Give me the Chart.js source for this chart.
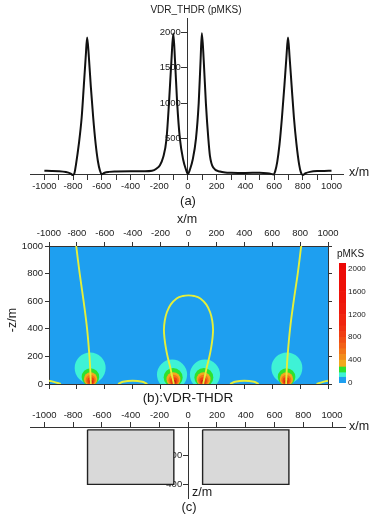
<!DOCTYPE html>
<html>
<head>
<meta charset="utf-8">
<script src="https://cdn.jsdelivr.net/npm/chart.js@4.4.1/dist/chart.umd.min.js"></script>
<style>
  body { margin: 0; background: #fff; }
  #wrap { position: relative; width: 378px; height: 518px; overflow: hidden; }
  canvas { position: absolute; }
</style>
</head>
<body>
<div id="wrap">
  <canvas id="chartA" width="378" height="210" style="left:0;top:0"></canvas>
  <canvas id="chartB" width="378" height="210" style="left:0;top:200px"></canvas>
  <canvas id="chartBar" width="58" height="150" style="left:320px;top:240px"></canvas>
  <canvas id="chartC" width="378" height="113" style="left:0;top:405px"></canvas>
</div>
<script>
// (a) VDR_THDR profile
var profileX = [-1000, -950, -900, -850, -820, -800, -790, -780, -760, -740, -725, -712, -702, -690, -677, -660, -643, -627, -613, -600,
  -580, -550, -500, -400, -300, -250, -220, -195, -172, -150, -132, -115, -102, -90, -75, -56, -33, -15, 0,
  15, 33, 56, 75, 88, 97, 110, 125, 142, 153, 176, 223, 260, 300, 400, 500, 550, 580, 595,
  608, 622, 638, 655, 672, 686, 697, 708, 722, 738, 756, 774, 788, 800, 820, 850, 900, 950, 1000];
var profileV = [45, 44, 40, 28, 10, -15, 15, 130, 420, 800, 1250, 1650, 1925, 1650, 1250, 800, 430, 180, 50, -5,
  18, 30, 35, 38, 38, 45, 75, 125, 240, 480, 1000, 1600, 1980, 1600, 1000, 500, 200, 70, 0,
  70, 200, 500, 1000, 1600, 1985, 1600, 1000, 500, 260, 90, 35, 22, 18, 15, 18, 12, 2, -8,
  40, 170, 420, 800, 1250, 1650, 1925, 1650, 1250, 800, 420, 140, 15, -14, 12, 30, 42, 44, 45];
var xTicksA = [-1000, -900, -800, -700, -600, -500, -400, -300, -200, -100, 0, 100, 200, 300, 400, 500, 600, 700, 800, 900, 1000];
var yTicksA = [500, 1000, 1500, 2000];

// (b) zero contours (yellow) as [x, -z] pairs
var zeroLeft = [[-805, 1000], [-780, 800], [-752, 600], [-727, 400], [-710, 200], [-704, 100], [-700, 0]];
var zeroRight = [[808, 1000], [783, 800], [754, 600], [728, 400], [710, 200], [704, 100], [700, 0]];
var zeroLoop = [[-105, 0], [-118, 60], [-132, 125], [-148, 190], [-162, 260], [-172, 330], [-176, 395], [-170, 460], [-155, 520],
  [-128, 575], [-85, 620], [-40, 638], [0, 642], [40, 638], [85, 620], [128, 575], [155, 520], [170, 460], [176, 395],
  [172, 330], [162, 260], [148, 190], [132, 125], [118, 60], [105, 0]];
var zeroArcL = [[-505, 0], [-470, 16], [-400, 24], [-330, 16], [-295, 0]];
var zeroArcR = [[298, 0], [333, 16], [400, 24], [470, 16], [503, 0]];
var zeroEdgeL = [[-1000, 24], [-960, 14], [-915, 0]];
var zeroEdgeR = [[918, 0], [960, 14], [1000, 24]];

// (b) filled contour levels around the four block edges: [x, -z, radius] in metres
var level100 = [[-705, 116, 111], [-118, 68, 108], [118, 68, 108], [705, 116, 111]];
var level180 = [[-703, 51, 63], [-110, 48, 68], [110, 48, 68], [703, 51, 63]];
var level280 = [[-702, 37, 48], [-108, 35, 50], [108, 35, 50], [702, 37, 48]];
var level400 = [[-701, 29, 36], [-106, 28, 38], [106, 28, 38], [701, 29, 36]];
var level600 = [[-700, 23, 25], [-105, 22, 26], [105, 22, 26], [700, 23, 25]];
var level1000 = [[-700, 17, 14], [-104, 16, 14], [104, 16, 14], [700, 17, 14]];

// colour bar
var bandEdges = [0, 100, 180, 280, 400, 500, 600, 700, 800, 900, 1000, 1200, 1400, 1600, 1800, 2000, 2100];
var barTicks = [0, 400, 800, 1200, 1600, 2000];

// (c) model blocks: [x1, x2, ztop, zbottom]
var blockLeft = [-700, -100, 20, 400];
var blockRight = [100, 700, 20, 400];
var yTicksC = [200, 400];
var xTicksC = [-1000, -800, -600, -400, -200, 0, 200, 400, 600, 800, 1000];

var bandColors = ['#1e9ff0', '#3ef2d6', '#2ee22e', '#f2a81e', '#f28c1a', '#f27418', '#f26016', '#f04e14',
  '#f03e12', '#f03010', '#f0240e', '#ee1a0c', '#ee140a', '#ee1008', '#ec0c08', '#ec0806'];
var FAM = '"Liberation Sans", Arial, sans-serif';

Chart.defaults.font.family = FAM;
Chart.defaults.color = '#1a1a1a';
Chart.defaults.animation = false;
Chart.defaults.responsive = false;
Chart.defaults.events = [];
Chart.defaults.plugins.legend.display = false;
Chart.defaults.plugins.tooltip.enabled = false;

var textPlugin = {
  id: 'texts',
  afterDraw: function (chart, args, opts) {
    var ctx = chart.ctx;
    (opts.items || []).forEach(function (t) {
      ctx.save();
      ctx.font = (t.size || 12) + 'px ' + FAM;
      ctx.fillStyle = '#1a1a1a';
      ctx.textAlign = t.align || 'center';
      ctx.textBaseline = 'middle';
      ctx.translate(t.x, t.y);
      if (t.rot) ctx.rotate(t.rot);
      ctx.fillText(t.text, 0, 0);
      ctx.restore();
    });
  }
};

var areaFill = {
  id: 'areaFill',
  beforeDraw: function (chart, args, opts) {
    if (!opts.color) return;
    var a = chart.chartArea;
    chart.ctx.save();
    chart.ctx.fillStyle = opts.color;
    chart.ctx.fillRect(a.left, a.top, a.right - a.left, a.bottom - a.top);
    chart.ctx.restore();
  }
};

function pts(arr) {
  return arr.map(function (p) { return { x: p[0], y: p[1] }; });
}
function fixedTicks(list) {
  return function (s) { s.ticks = list.map(function (v) { return { value: v }; }); };
}
function noLabel() { return ''; }

function axisStyle(extra) {
  var o = {
    grid: { drawOnChartArea: false, tickLength: 5, color: '#333' },
    border: { color: '#333', width: 1 },
    ticks: { font: { size: 9.5 }, color: '#222', maxRotation: 0, autoSkip: false, padding: 2,
      callback: function (v) { return String(v); } }
  };
  for (var k in extra) {
    if (typeof extra[k] === 'object' && o[k] && !Array.isArray(extra[k])) {
      o[k] = Object.assign({}, o[k], extra[k]);
    } else {
      o[k] = extra[k];
    }
  }
  return o;
}

// ---------- (a) ----------
new Chart(document.getElementById('chartA'), {
  type: 'scatter',
  data: {
    datasets: [{
      data: profileX.map(function (x, i) { return { x: x, y: profileV[i] }; }),
      showLine: true,
      borderColor: '#111',
      borderWidth: 2,
      pointRadius: 0,
      cubicInterpolationMode: 'monotone',
      clip: false
    }]
  },
  options: {
    layout: { padding: { left: 30, right: 35, top: 18, bottom: 36 } },
    plugins: {
      texts: {
        items: [
          { text: 'VDR_THDR (pMKS)', x: 196, y: 10, size: 10 },
          { text: 'x/m', x: 349, y: 173, size: 12.5, align: 'left' },
          { text: '(a)', x: 188, y: 201, size: 13 }
        ]
      }
    },
    scales: {
      y: axisStyle({
        type: 'linear', min: 0, max: 2200, position: { x: 0 },
        afterBuildTicks: fixedTicks(yTicksA),
        grid: { tickLength: 6 },
        ticks: { callback: noLabel }
      }),
      yLab: axisStyle({
        axis: 'y', type: 'linear', min: 0, max: 2200, position: { x: -49 }, z: 1,
        afterBuildTicks: fixedTicks(yTicksA),
        grid: { display: false },
        border: { display: false }
      }),
      x: axisStyle({
        type: 'linear', min: -1100, max: 1080, position: { y: 0 },
        afterBuildTicks: fixedTicks(xTicksA),
        ticks: { callback: function (v) { return v % 200 === 0 ? String(v) : ''; } }
      })
    }
  },
  plugins: [textPlugin]
});

// ---------- (b) ----------
function levelSet(list, color, order) {
  return {
    data: list.map(function (p) { return { x: p[0], y: p[1], r: p[2] }; }),
    showLine: false,
    pointRadius: function (c) {
      if (!c.raw) return 0;
      var s = c.chart.scales.x;
      return Math.abs(s.getPixelForValue(c.raw.r) - s.getPixelForValue(0));
    },
    pointBackgroundColor: color,
    pointBorderWidth: 0,
    clip: 0,
    order: order
  };
}
function zeroSet(list) {
  return {
    data: pts(list), showLine: true, borderColor: '#e4ef3a', borderWidth: 1.9,
    pointRadius: 0, tension: 0.4, clip: 0, order: 1
  };
}

new Chart(document.getElementById('chartB'), {
  type: 'scatter',
  data: {
    datasets: [
      zeroSet(zeroLeft), zeroSet(zeroRight), zeroSet(zeroLoop),
      zeroSet(zeroArcL), zeroSet(zeroArcR), zeroSet(zeroEdgeL), zeroSet(zeroEdgeR),
      levelSet(level100, bandColors[1], 16),
      levelSet(level180, bandColors[2], 15),
      levelSet(level280, bandColors[3], 14),
      levelSet(level400, bandColors[5], 13),
      levelSet(level600, bandColors[8], 12),
      levelSet(level1000, '#c8200c', 11)
    ]
  },
  options: {
    layout: { padding: { left: 0, right: 44, top: 0, bottom: 20 } },
    plugins: {
      areaFill: { color: bandColors[0] },
      texts: {
        items: [
          { text: 'x/m', x: 187, y: 20, size: 12.5 },
          { text: '-z/m', x: 13, y: 120, size: 12.5, rot: -Math.PI / 2 },
          { text: '(b):VDR-THDR', x: 188, y: 198, size: 13.5 }
        ]
      }
    },
    scales: {
      x: axisStyle({
        type: 'linear', position: 'top', min: -1000, max: 1000, z: 1,
        afterFit: function (s) { s.height = 46; },
        grid: { tickLength: 4 },
        ticks: { stepSize: 200, padding: 3 }
      }),
      x2: axisStyle({
        type: 'linear', position: 'bottom', min: -1000, max: 1000, z: 1,
        afterFit: function (s) { s.height = 6; },
        grid: { tickLength: 5 },
        ticks: { stepSize: 200, callback: noLabel }
      }),
      y: axisStyle({
        type: 'linear', position: 'left', min: 0, max: 1000, z: 1,
        afterFit: function (s) { s.width = 49; },
        grid: { tickLength: 4 },
        ticks: { stepSize: 200, padding: 2 }
      }),
      y2: axisStyle({
        type: 'linear', position: 'right', min: 0, max: 1000, z: 1,
        afterFit: function (s) { s.width = 6; },
        grid: { tickLength: 4 },
        ticks: { stepSize: 200, callback: noLabel }
      })
    }
  },
  plugins: [areaFill, textPlugin]
});

// ---------- colour bar ----------
new Chart(document.getElementById('chartBar'), {
  type: 'bar',
  data: {
    labels: ['pMKS'],
    datasets: bandColors.map(function (col, i) {
      return {
        data: [[bandEdges[i], bandEdges[i + 1]]],
        backgroundColor: col, borderWidth: 0,
        barPercentage: 1, categoryPercentage: 1, grouped: false
      };
    })
  },
  options: {
    layout: { padding: { left: 19, right: 0, top: 23, bottom: 7 } },
    plugins: {
      texts: { items: [{ text: 'pMKS', x: 30.5, y: 14, size: 10 }] }
    },
    scales: {
      x: { display: false },
      y: {
        type: 'linear', position: 'right', min: 0, max: 2100,
        afterFit: function (s) { s.width = 32; },
        afterBuildTicks: fixedTicks(barTicks),
        grid: { display: false, drawTicks: false, tickLength: 0 },
        border: { display: false },
        ticks: { font: { size: 8 }, color: '#222', padding: 2, callback: function (v) { return String(v); } }
      }
    }
  },
  plugins: [textPlugin]
});

// ---------- (c) ----------
function blockSet(b) {
  return {
    data: [{ x: b[0], y: b[2] }, { x: b[1], y: b[2] }, { x: b[1], y: b[3] }, { x: b[0], y: b[3] }, { x: b[0], y: b[2] }],
    showLine: true, fill: 'shape', backgroundColor: '#d9d9d9',
    borderColor: '#222', borderWidth: 1.4, pointRadius: 0, tension: 0
  };
}

new Chart(document.getElementById('chartC'), {
  type: 'scatter',
  data: { datasets: [blockSet(blockLeft), blockSet(blockRight)] },
  options: {
    layout: { padding: { left: 30, right: 33, top: 0, bottom: 20 } },
    plugins: {
      texts: {
        items: [
          { text: 'x/m', x: 349, y: 22, size: 12.5, align: 'left' },
          { text: 'z/m', x: 192, y: 88, size: 12.5, align: 'left' },
          { text: '(c)', x: 189, y: 102, size: 13 }
        ]
      }
    },
    scales: {
      y: axisStyle({
        type: 'linear', reverse: true, min: 0, max: 495, position: { x: 0 }, z: 1,
        afterBuildTicks: fixedTicks(yTicksC),
        grid: { tickLength: 5 },
        ticks: { callback: noLabel }
      }),
      yLab: axisStyle({
        axis: 'y', type: 'linear', reverse: true, min: 0, max: 495, position: { x: -42 }, z: 1,
        afterBuildTicks: fixedTicks(yTicksC),
        grid: { display: false },
        border: { display: false }
      }),
      x: axisStyle({
        type: 'linear', position: 'top', min: -1100, max: 1090,
        afterFit: function (s) { s.height = 22; },
        afterBuildTicks: fixedTicks(xTicksC),
        grid: { tickLength: 5 },
        ticks: { padding: 1 }
      })
    }
  },
  plugins: [textPlugin]
});
</script>
</body>
</html>
